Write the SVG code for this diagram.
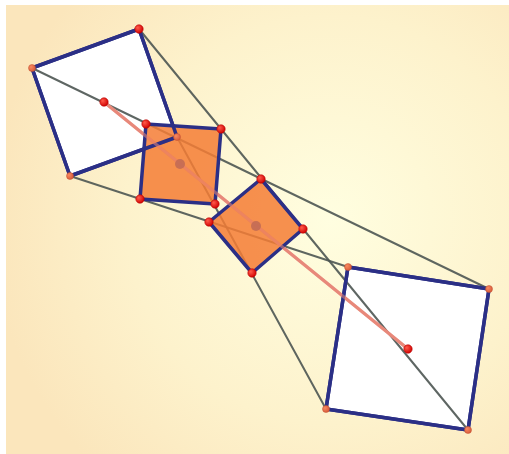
<svg xmlns="http://www.w3.org/2000/svg" width="509" height="454" viewBox="0 0 509 454">
<style>
.conn line{stroke:#4d5552;stroke-width:2;stroke-opacity:0.9;stroke-linecap:round}
.wsq{fill:#ffffff;stroke:#2b2f86;stroke-width:3.5;stroke-linejoin:round}
.osq{fill:#f57d35;fill-opacity:0.85;stroke:#2b2f86;stroke-width:3.5;stroke-linejoin:round}
.edge{fill:none;stroke:#2b2f86;stroke-width:3.5;stroke-linejoin:round}
.rd{fill:url(#gr);stroke:#b80000;stroke-width:0.6}
.od{fill:url(#go);stroke:#c05030;stroke-width:0.5}
.cd{fill:#c06a55;fill-opacity:0.85}
.axis{stroke:#e8887a;stroke-width:3;stroke-linecap:round}
</style>
<defs>
<radialGradient id="bg" cx="330" cy="220" r="340" gradientUnits="userSpaceOnUse">
<stop offset="0" stop-color="#fffee0"/>
<stop offset="0.6" stop-color="#fdf2cc"/>
<stop offset="1" stop-color="#fbe6bc"/>
</radialGradient>
<radialGradient id="gr" cx="0.35" cy="0.35" r="0.7">
<stop offset="0" stop-color="#ff5a4a"/>
<stop offset="1" stop-color="#d00000"/>
</radialGradient>
<radialGradient id="go" cx="0.35" cy="0.35" r="0.7">
<stop offset="0" stop-color="#f88a60"/>
<stop offset="1" stop-color="#d85a3a"/>
</radialGradient>
</defs>
<rect x="0" y="0" width="509" height="454" fill="#ffffff"/>
<rect x="6" y="5" width="503" height="449" fill="url(#bg)"/>

<g id="square-left-fill"><polygon class="wsq" points="32,68 139,29 177,137 70,176" stroke="none"/></g>
<g id="square-right-fill"><polygon class="wsq" points="348,267 489,289 468,430 326,409" stroke="none"/></g>

<g id="connectors" class="conn">
<line x1="32" y1="68" x2="489" y2="289"/>
<line x1="139" y1="29" x2="468" y2="430"/>
<line x1="177" y1="137" x2="326" y2="409"/>
<line x1="70" y1="176" x2="348" y2="267"/>
</g>

<g id="center-line"><line class="axis" x1="104" y1="102" x2="408" y2="349"/></g>

<g id="square-quarter"><polygon class="osq" points="146,124 221,129 215,204 140,199"/></g>
<g id="square-mid"><polygon class="osq" points="261,179 303,229 252,273 209,222"/></g>

<g id="square-left"><polygon class="edge" points="32,68 139,29 177,137 70,176"/></g>
<g id="square-right"><polygon class="edge" points="348,267 489,289 468,430 326,409"/></g>

<g id="center-line-top"><line class="axis" x1="104" y1="102" x2="408" y2="349" stroke-opacity="0.55"/></g>

<g id="points">
<circle class="cd" cx="180" cy="164" r="5"/>
<circle class="cd" cx="256" cy="226" r="5"/>
<circle class="od" cx="32" cy="68" r="3.5"/>
<circle class="od" cx="177" cy="137" r="3.5"/>
<circle class="od" cx="70" cy="176" r="3.5"/>
<circle class="od" cx="348" cy="267" r="3.5"/>
<circle class="od" cx="489" cy="289" r="3.5"/>
<circle class="od" cx="468" cy="430" r="3.5"/>
<circle class="od" cx="326" cy="409" r="3.5"/>
<circle class="rd" cx="139" cy="29" r="4.2"/>
<circle class="rd" cx="104" cy="102" r="4.2"/>
<circle class="rd" cx="408" cy="349" r="4.2"/>
<circle class="rd" cx="146" cy="124" r="4.2"/>
<circle class="rd" cx="221" cy="129" r="4.2"/>
<circle class="rd" cx="215" cy="204" r="4.2"/>
<circle class="rd" cx="140" cy="199" r="4.2"/>
<circle class="rd" cx="261" cy="179" r="4.2"/>
<circle class="rd" cx="303" cy="229" r="4.2"/>
<circle class="rd" cx="252" cy="273" r="4.2"/>
<circle class="rd" cx="209" cy="222" r="4.2"/>
</g>
</svg>
